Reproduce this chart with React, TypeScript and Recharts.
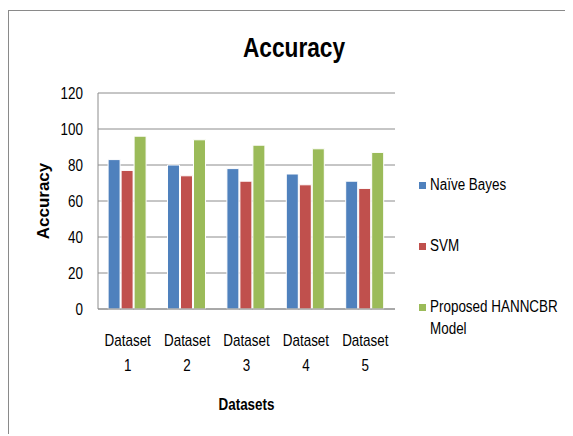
import React from "react";
import { BarChart, Bar, XAxis, YAxis, CartesianGrid, Legend, Label } from "recharts";

const categories = ["Dataset 1", "Dataset 2", "Dataset 3", "Dataset 4", "Dataset 5"];
const naiveBayes = [83, 80, 78, 75, 71];
const svm = [77, 74, 71, 69, 67];
const hanncbr = [96, 94, 91, 89, 87];
const yTicks = [0, 20, 40, 60, 80, 100, 120];

const seriesNames = ["Naïve Bayes", "SVM", "Proposed HANNCBR Model"];
const seriesColors = ["#4F81BD", "#C0504D", "#9BBB59"];

const data = categories.map((name, i) => ({
  name,
  nb: naiveBayes[i],
  svm: svm[i],
  hann: hanncbr[i],
}));

const FONT = "'Liberation Sans', Arial, sans-serif";
// horizontal squeeze to give the text a condensed look
const SQUEEZE = 0.84;

const CategoryTick = (props: any) => {
  const { x, y, payload } = props;
  const parts = String(payload.value).split(" ");
  return (
    <g transform={`translate(${x},${y}) scale(${SQUEEZE},1)`}>
      <text textAnchor="middle" fontFamily={FONT} fontSize={16} fill="#000">
        <tspan x={0} dy={29}>{parts[0]}</tspan>
        <tspan x={0} dy={25}>{parts[1]}</tspan>
      </text>
    </g>
  );
};

const ValueTick = (props: any) => {
  const { x, y, payload } = props;
  return (
    <g transform={`translate(${x - 7},${y + 6}) scale(${SQUEEZE},1)`}>
      <text x={0} y={0} textAnchor="end" fontFamily={FONT} fontSize={16} fill="#000">
        {payload.value}
      </text>
    </g>
  );
};

const renderLegend = () => (
  <div style={{ fontFamily: FONT, fontSize: 16, color: "#000", width: 200 }}>
    {seriesNames.map((n, i) => (
      <div key={n} style={{ display: "flex", alignItems: "flex-start", height: 61, lineHeight: "22px" }}>
        <span
          style={{
            display: "inline-block",
            width: 7,
            height: 7,
            background: seriesColors[i],
            marginTop: 8,
            marginRight: 4,
            flex: "none",
          }}
        />
        <span
          style={{
            display: "inline-block",
            flex: "none",
            width: 160,
            transform: `scaleX(${SQUEEZE})`,
            transformOrigin: "left top",
          }}
        >
          {n}
        </span>
      </div>
    ))}
  </div>
);

export default function App() {
  return (
    <div
      style={{
        position: "relative",
        top: 2,
        width: 565,
        height: 426,
        borderTop: "1px solid #8a8a8a",
        borderLeft: "1px solid #8a8a8a",
        boxSizing: "border-box",
        overflow: "hidden",
        background: "#fff",
      }}
    >
      <div
        style={{
          position: "absolute",
          left: 0,
          width: 570,
          top: 22,
          textAlign: "center",
          fontFamily: FONT,
          fontWeight: "bold",
          fontSize: 27,
          color: "#000",
          transform: `scaleX(${SQUEEZE})`,
          transformOrigin: "285px 0",
        }}
      >
        Accuracy
      </div>
      <BarChart
        width={564}
        height={425}
        data={data}
        margin={{ top: 82, right: 178, left: 0, bottom: 67 }}
        barCategoryGap="17%"
        barGap={1}
      >
        <CartesianGrid vertical={false} stroke="#8c8c8c" strokeWidth={1} />
        <XAxis
          dataKey="name"
          height={60}
          tickLine={false}
          axisLine={{ stroke: "#8c8c8c" }}
          tick={<CategoryTick />}
          interval={0}
        >
          <Label
            content={({ viewBox }: any) => {
              const cx = viewBox.x + viewBox.width / 2;
              return (
                <g transform={`translate(${cx},394) scale(${SQUEEZE},1)`}>
                  <text
                    x={0}
                    y={0}
                    textAnchor="middle"
                    dominantBaseline="central"
                    fontFamily={FONT}
                    fontWeight="bold"
                    fontSize={16}
                    fill="#000"
                  >
                    Datasets
                  </text>
                </g>
              );
            }}
          />
        </XAxis>
        <YAxis
          width={89}
          domain={[0, 120]}
          ticks={yTicks}
          tickLine={false}
          axisLine={{ stroke: "#8c8c8c" }}
          tick={<ValueTick />}
        >
          <Label
            content={({ viewBox }: any) => {
              const cy = viewBox.y + viewBox.height / 2;
              return (
                <g transform={`translate(34,${cy}) rotate(-90)`}>
                  <text
                    x={0}
                    y={0}
                    textAnchor="middle"
                    dominantBaseline="central"
                    fontFamily={FONT}
                    fontWeight="bold"
                    fontSize={17}
                    fill="#000"
                  >
                    Accuracy
                  </text>
                </g>
              );
            }}
          />
        </YAxis>
        <Legend
          layout="vertical"
          align="center"
          verticalAlign="middle"
          content={renderLegend}
          wrapperStyle={{ left: 410, top: 163, width: 200 }}
        />
        <Bar dataKey="nb" name={seriesNames[0]} fill={seriesColors[0]} stroke="#fff" strokeWidth={1} isAnimationActive={false} />
        <Bar dataKey="svm" name={seriesNames[1]} fill={seriesColors[1]} stroke="#fff" strokeWidth={1} isAnimationActive={false} />
        <Bar dataKey="hann" name={seriesNames[2]} fill={seriesColors[2]} stroke="#fff" strokeWidth={1} isAnimationActive={false} />
      </BarChart>
    </div>
  );
}
